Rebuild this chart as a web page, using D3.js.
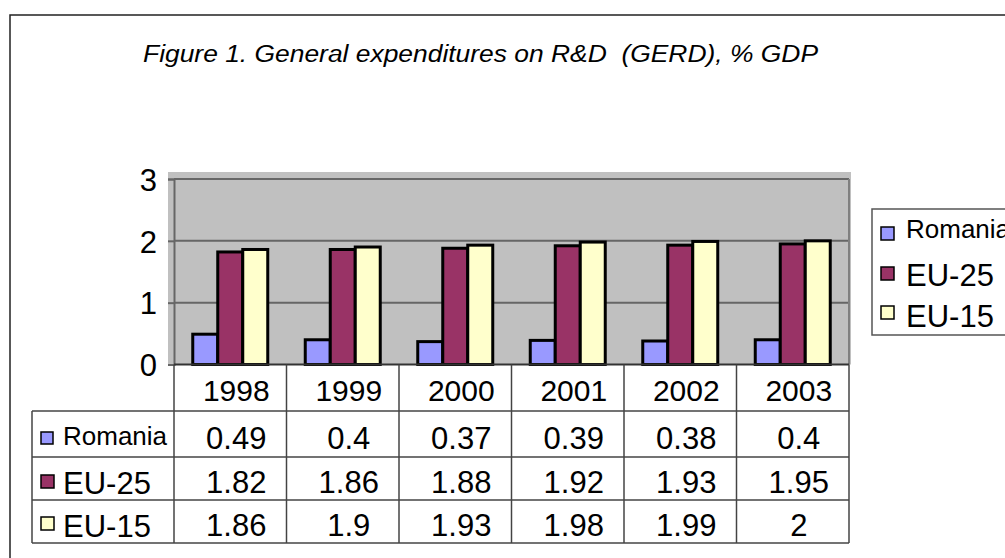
<!DOCTYPE html>
<html>
<head>
<meta charset="utf-8">
<script src="https://cdn.jsdelivr.net/npm/d3@7"></script>
<style>
  body { margin: 0; background: #fff; }
  svg { display: block; font-family: "Liberation Sans", Arial, sans-serif; }
</style>
</head>
<body>
<svg id="chart" width="1005" height="558"></svg>
<script>
// chart data
var years = ["1998", "1999", "2000", "2001", "2002", "2003"];
var seriesNames = ["Romania", "EU-25", "EU-15"];
var romania = [0.49, 0.4, 0.37, 0.39, 0.38, 0.4];
var eu25 = [1.82, 1.86, 1.88, 1.92, 1.93, 1.95];
var eu15 = [1.86, 1.9, 1.93, 1.98, 1.99, 2];
var yTicks = [0, 1, 2, 3];
var tableLabels = ["0.49", "0.4", "0.37", "0.39", "0.38", "0.4",
                   "1.82", "1.86", "1.88", "1.92", "1.93", "1.95",
                   "1.86", "1.9", "1.93", "1.98", "1.99", "2"];

(function() {
var seriesValues = [romania, eu25, eu15];
var colors = ["#9999FF", "#993366", "#FFFFCC"];

var svg = d3.select("#chart");

// outer frame (runs past the right & bottom edge)
svg.append("rect")
    .attr("x", 10).attr("y", 15)
    .attr("width", 1020).attr("height", 580)
    .attr("fill", "none").attr("stroke", "#222").attr("stroke-width", 1.5);

svg.append("text")
    .attr("x", 143).attr("y", 62)
    .attr("font-size", 23).attr("font-style", "italic")
    .attr("fill", "#000")
    .attr("textLength", 675).attr("lengthAdjust", "spacingAndGlyphs")
    .style("white-space", "pre")
    .text("Figure 1. General expenditures on R&D  (GERD), % GDP");

var plotLeft = 174, plotRight = 849, plotTop = 179, zero = 364.5;

var x0 = d3.scaleBand().domain(years).range([plotLeft, plotRight]).padding(0);
var x1 = d3.scaleBand().domain(seriesNames).range([0, x0.bandwidth()])
    .paddingInner(0).paddingOuter(0.75);
var y = d3.scaleLinear().domain([0, 3]).range([zero, plotTop]);

// plot area
svg.append("rect")
    .attr("x", 168).attr("y", 172)
    .attr("width", 851 - 168).attr("height", zero - 172)
    .attr("fill", "#C0C0C0");

svg.append("g").selectAll("line").data(yTicks.filter(function(d) { return d > 0; }))
    .enter().append("line")
    .attr("x1", plotLeft).attr("x2", plotRight)
    .attr("y1", function(d) { return y(d); })
    .attr("y2", function(d) { return y(d); })
    .attr("stroke", "#666").attr("stroke-width", 2);

svg.append("line")
    .attr("x1", plotRight).attr("x2", plotRight)
    .attr("y1", plotTop).attr("y2", zero)
    .attr("stroke", "#808080").attr("stroke-width", 2);

// bars
var groups = svg.append("g").selectAll("g").data(years).enter().append("g")
    .attr("transform", function(d) { return "translate(" + x0(d) + ",0)"; });

groups.selectAll("rect")
    .data(function(d, i) {
        return seriesNames.map(function(s, j) { return {s: s, v: seriesValues[j][i], c: colors[j]}; });
    })
    .enter().append("rect")
    .attr("x", function(d) { return x1(d.s); })
    .attr("y", function(d) { return y(d.v); })
    .attr("width", x1.bandwidth())
    .attr("height", function(d) { return zero - y(d.v); })
    .attr("fill", function(d) { return d.c; })
    .attr("stroke", "#000").attr("stroke-width", 3);

// y axis
var yAxis = svg.append("g")
    .attr("transform", "translate(" + plotLeft + ",0)")
    .call(d3.axisLeft(y).tickValues(yTicks).tickSize(6).tickPadding(11).tickFormat(d3.format("d")));
yAxis.select(".domain").attr("stroke", "#666").attr("stroke-width", 2);
yAxis.selectAll(".tick line").attr("stroke", "#666").attr("stroke-width", 2);
yAxis.selectAll(".tick text")
    .attr("font-size", 31).attr("fill", "#000")
    .attr("font-family", "Liberation Sans, Arial, sans-serif")
    .attr("dy", "0.36em");

// data table
var rowLines = [zero, 411, 457, 500, 543];
var tableLeft = 32;
var tbl = svg.append("g").attr("stroke", "#444").attr("stroke-width", 1.5);

tbl.append("line").attr("x1", plotLeft).attr("x2", plotRight).attr("y1", zero).attr("y2", zero)
    .attr("stroke", "#333").attr("stroke-width", 2);
rowLines.slice(1).forEach(function(yy) {
    tbl.append("line").attr("x1", tableLeft).attr("x2", plotRight).attr("y1", yy).attr("y2", yy);
});
tbl.append("line").attr("x1", tableLeft).attr("x2", tableLeft)
    .attr("y1", rowLines[1]).attr("y2", rowLines[4]);
years.concat(["end"]).forEach(function(yr, i) {
    var xx = i < years.length ? x0(yr) : plotRight;
    tbl.append("line").attr("x1", xx).attr("x2", xx)
        .attr("y1", zero).attr("y2", rowLines[4]);
});

var textG = svg.append("g").attr("fill", "#000").attr("text-anchor", "middle");
textG.selectAll("text.yr").data(years).enter().append("text")
    .attr("class", "yr")
    .attr("x", function(d) { return x0(d) + x0.bandwidth() / 2 + 6; })
    .attr("y", 401)
    .attr("font-size", 30)
    .text(function(d) { return d; });

var rowBase = [449, 493, 536];
var cells = [];
seriesNames.forEach(function(s, j) {
    years.forEach(function(yr, i) {
        cells.push({yr: yr, row: j, label: tableLabels[j * years.length + i]});
    });
});
textG.selectAll("text.cell").data(cells).enter().append("text")
    .attr("class", "cell")
    .attr("x", function(d) { return x0(d.yr) + x0.bandwidth() / 2 + 6; })
    .attr("y", function(d) { return rowBase[d.row]; })
    .attr("font-size", 31)
    .text(function(d) { return d.label; });

// row labels with legend keys
var keySize = [12, 13, 13];
var keyTop = [432, 475, 517];
var labelSize = [26, 31, 31];
var labelBase = [445, 494, 537];
seriesNames.forEach(function(s, j) {
    svg.append("rect")
        .attr("x", 41).attr("y", keyTop[j])
        .attr("width", keySize[j]).attr("height", keySize[j])
        .attr("fill", colors[j]).attr("stroke", "#000").attr("stroke-width", 1.5);
    svg.append("text")
        .attr("x", 63).attr("y", labelBase[j])
        .attr("font-size", labelSize[j]).attr("fill", "#000")
        .text(s);
});

// legend (cut off at the right edge, as in the original)
var legend = svg.append("g");
legend.append("rect")
    .attr("x", 872).attr("y", 209)
    .attr("width", 200).attr("height", 126)
    .attr("fill", "#fff").attr("stroke", "#555").attr("stroke-width", 1.5);
var legKeyTop = [227, 267, 306];
var legBase = [238, 286, 327];
seriesNames.forEach(function(s, j) {
    legend.append("rect")
        .attr("x", 881).attr("y", legKeyTop[j])
        .attr("width", 13).attr("height", 13)
        .attr("fill", colors[j]).attr("stroke", "#000").attr("stroke-width", 1.5);
    legend.append("text")
        .attr("x", 906).attr("y", legBase[j])
        .attr("font-size", labelSize[j]).attr("fill", "#000")
        .text(s);
});
})();
</script>
</body>
</html>
